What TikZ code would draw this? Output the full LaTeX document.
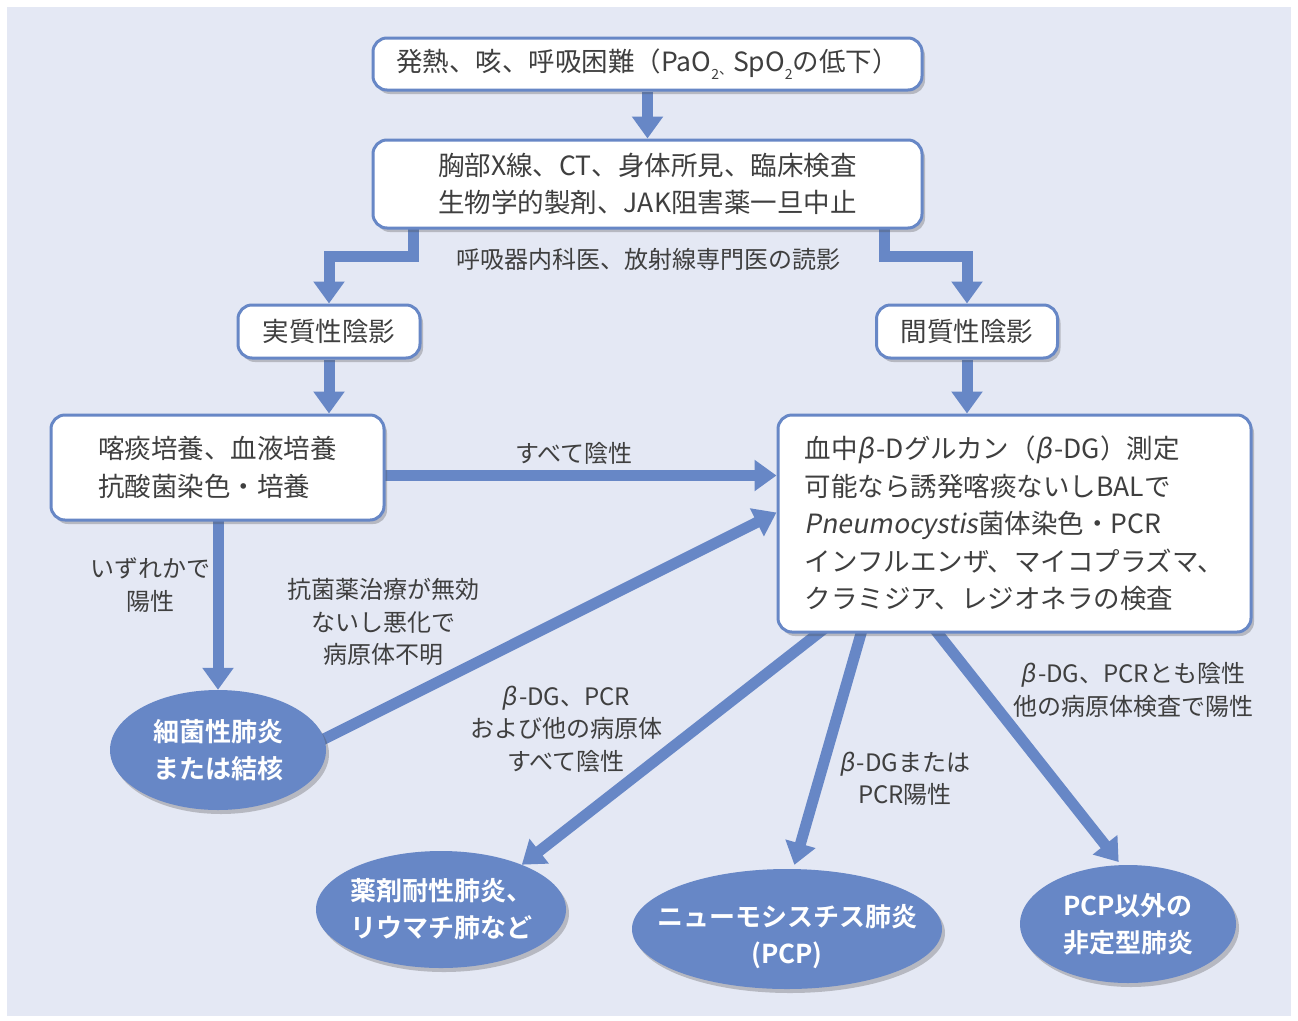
\documentclass[tikz,border=0pt]{standalone}
\usepackage{fontspec}
\setmainfont{Noto Sans CJK JP}[BoldFont={Noto Sans CJK JP Bold}]
\newfontfamily\slfont{Noto Sans CJK JP}[FakeSlant=0.18]
\usetikzlibrary{arrows.meta,shapes.geometric,shadows,calc}
\definecolor{bgc}{HTML}{E4E8F4}
\definecolor{blu}{HTML}{6787C6}
\definecolor{txt}{HTML}{3F3F3F}
\pgfdeclarelayer{bglayer}
\pgfdeclarelayer{conn}
\pgfsetlayers{bglayer,conn,main}
\newcommand\subtwo{\raisebox{-0.32em}{\fontsize{14}{14}\selectfont 2}}
\newcommand\smallcomma{\raisebox{-0.12em}{\fontsize{14}{14}\selectfont 、}}
\newcommand\bet{{\slfont β}\kern2pt}
\begin{document}
\begin{tikzpicture}[x=1pt,y=-1pt,
  shad/.style={drop shadow={shadow xshift=3pt,shadow yshift=-4pt,opacity=0.3,fill=black!70}},
  box/.style={draw=blu, line width=3pt, fill=white, rounded corners=14pt, text=txt,
    font=\fontsize{26.5}{37.5}\selectfont, inner sep=0pt, shad},
  ell/.style={ellipse, fill=blu, draw=none, inner sep=0pt, shad},
  elltxt/.style={text=white, font=\fontsize{26}{37}\selectfont\bfseries, align=center, inner sep=0pt},
  lab/.style={text=txt, font=\fontsize{24}{32.5}\selectfont, align=center, inner sep=0pt},
  arr/.style={draw=blu, line width=11pt, -{Triangle[width=30pt,length=22pt]}}
]
\begin{pgfonlayer}{bglayer}
  \fill[white] (0,0) rectangle (1298,1020);
  \fill[bgc] (7,7) rectangle (1291,1016);
\end{pgfonlayer}

% boxes
\node[box, minimum width=549pt, minimum height=52pt] (n1) at (647.5,64)
  {発熱、咳、呼吸困難（PaO\subtwo\smallcomma SpO\subtwo の低下）};
\node[box, minimum width=549pt, minimum height=88pt, align=center] (n2) at (647.5,184)
  {胸部X線、CT、身体所見、臨床検査\\生物学的製剤、JAK阻害薬一旦中止};
\node[box, minimum width=182pt, minimum height=53pt] (n3) at (329,331.5) {実質性陰影};
\node[box, minimum width=181pt, minimum height=53pt] (n4) at (967,331.5) {間質性陰影};
\node[box, minimum width=333pt, minimum height=105pt, align=left] (n5) at (217.5,467.5)
  {喀痰培養、血液培養\\抗酸菌染色・培養};
\node[box, minimum width=473pt, minimum height=217pt, align=left] (n6) at (1014.5,523.5)
  {血中\bet-Dグルカン（\bet-DG）測定\\
   可能なら誘発喀痰ないしBALで\\
   {\slfont Pneumocystis}菌体染色・PCR\\
   インフルエンザ、マイコプラズマ、\\
   クラミジア、レジオネラの検査};

% ellipses
\node[ell, minimum width=216pt, minimum height=120pt,
  label={[elltxt]center:細菌性肺炎\\または結核}] (e1) at (218,750) {};
\node[ell, minimum width=250pt, minimum height=117pt,
  label={[elltxt]center:薬剤耐性肺炎、\\リウマチ肺など}] (e2) at (441,909.5) {};
\node[ell, minimum width=310pt, minimum height=120pt,
  label={[elltxt,yshift=-8pt]center:ニューモシスチス肺炎\\(PCP)}] (e3) at (787,929) {};
\node[ell, minimum width=216pt, minimum height=118pt,
  label={[elltxt]center:PCP以外の\\非定型肺炎}] (e4) at (1128,924) {};

% labels
\node[lab] (l1) at (648,259) {呼吸器内科医、放射線専門医の読影};
\node[lab] (l2) at (574,453) {すべて陰性};
\node[lab] (l3) at (150,585) {いずれかで\\陽性};
\node[lab] (l4) at (383,622) {抗菌薬治療が無効\\ないし悪化で\\病原体不明};
\node[lab] (l5) at (566,729) {\bet-DG、PCR\\および他の病原体\\すべて陰性};
\node[lab] (l6) at (905,779) {\bet-DGまたは\\PCR陽性};
\node[lab] (l7) at (1133,690) {\bet-DG、PCRとも陰性\\他の病原体検査で陽性};

% connectors
\begin{pgfonlayer}{conn}
  \draw[arr] (n1) -- (n2);
  \draw[arr] ([xshift=-234pt,yshift=6pt]n2.south) -- ++(0,32.5) -| (n3.north);
  \draw[arr] ([xshift=236.5pt,yshift=6pt]n2.south) -- ++(0,32.5) -| (n4.north);
  \draw[arr] (n3) -- (n3 |- n5.north);
  \draw[arr] (n4) -- (n4 |- n6.north);
  \draw[arr] ([yshift=-8pt]n5.center) -- ([yshift=-8pt]n5.center -| n6.west);
  \draw[arr] (n5.center -| e1) -- (e1.north);
  \draw[arr] ($(e1.6)!-14pt!([yshift=11pt]n6.west)$) -- ([yshift=11pt]n6.west);
  \draw[arr] ($([xshift=-196.5pt]n6.south)!-14pt!(e2.29)$) -- (e2.29);
  \draw[arr] ($([xshift=-153.5pt]n6.south)!-14pt!([yshift=4pt]e3.83)$) -- ([yshift=4pt]e3.83);
  \draw[arr] ($([xshift=-76.5pt]n6.south)!-14pt!([yshift=3pt]e4.99)$) -- ([yshift=3pt]e4.99);
\end{pgfonlayer}
\end{tikzpicture}
\end{document}
